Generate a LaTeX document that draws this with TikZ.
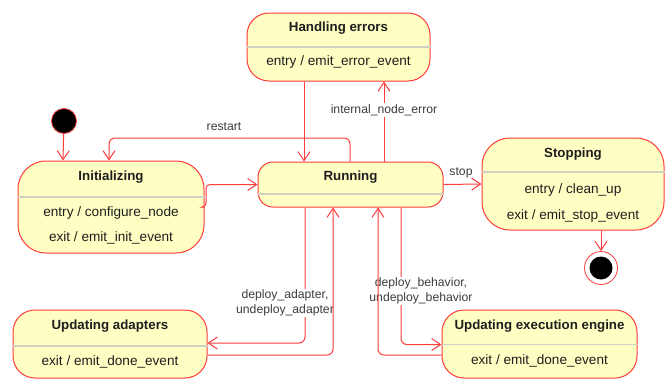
\documentclass[tikz,border=0pt]{standalone}
\usepackage{fontspec}
\setmainfont{Liberation Sans}
\usetikzlibrary{arrows.meta}

\definecolor{statefill}{HTML}{FFFFC4}
\definecolor{stateline}{HTML}{FF3B3B}
\definecolor{sepline}{HTML}{CFCFC4}
\definecolor{textdark}{HTML}{1E1E1E}
\definecolor{labeltext}{HTML}{3C3C3C}

\tikzset{
  statebox/.style={draw=stateline, line width=1pt, fill=statefill, inner sep=0pt},
  titletext/.style={font=\fontsize{13.3}{15}\selectfont\bfseries, text=textdark, inner sep=0pt},
  bodytext/.style={font=\fontsize{13.6}{16}\selectfont, text=textdark, inner sep=0pt},
  sep/.style={draw=sepline, line width=1.8pt},
  trans/.style={draw=stateline, line width=1pt, rounded corners=6pt,
    -{Straight Barb[length=9pt,width=12pt,line width=1pt]}},
  evlabel/.style={font=\fontsize{12.2}{15}\selectfont, text=labeltext, inner sep=1pt, align=center},
  pseudo/.style={circle, fill=black, draw=stateline, line width=0.8pt, inner sep=0pt}
}

\begin{document}
\begin{tikzpicture}[x=1pt,y=-1pt]
\useasboundingbox (0,0) rectangle (672,378);

% ---- states ----
\node[statebox, rounded corners=28pt, minimum width=186pt, minimum height=92pt] (init) at (111,207) {};
\draw[sep] (init.west |- 0,197) -- (init.east |- 0,197);
\node[titletext] (initT) at (111,177) {Initializing};
\node[bodytext] (initA) at (111,213) {entry / configure\_node};
\node[bodytext] (initB) at (111,238) {exit / emit\_init\_event};

\node[statebox, rounded corners=15pt, minimum width=185pt, minimum height=45pt] (run) at (350.5,184.5) {};
\draw[sep] (run.west |- 0,194) -- (run.east |- 0,194);
\node[titletext] (runT) at (350.5,177) {Running};

\node[statebox, rounded corners=22pt, minimum width=183pt, minimum height=68pt] (err) at (338.5,47) {};
\draw[sep] (err.west |- 0,47) -- (err.east |- 0,47);
\node[titletext] (errT) at (338.5,28) {Handling errors};
\node[bodytext] (errA) at (338.5,62) {entry / emit\_error\_event};

\node[statebox, rounded corners=28pt, minimum width=182pt, minimum height=92pt] (stop) at (573,184) {};
\draw[sep] (stop.west |- 0,172) -- (stop.east |- 0,172);
\node[titletext] (stopT) at (573,154) {Stopping};
\node[bodytext] (stopA) at (573,190) {entry / clean\_up};
\node[bodytext] (stopB) at (573,216) {exit / emit\_stop\_event};

\node[statebox, rounded corners=22pt, minimum width=194pt, minimum height=68pt] (adp) at (110,344) {};
\draw[sep] (adp.west |- 0,346) -- (adp.east |- 0,346);
\node[titletext] (adpT) at (110,326) {Updating adapters};
\node[bodytext] (adpA) at (110,362) {exit / emit\_done\_event};

\node[statebox, rounded corners=22pt, minimum width=195pt, minimum height=68pt] (eng) at (539.5,344) {};
\draw[sep] (eng.west |- 0,344.5) -- (eng.east |- 0,344.5);
\node[titletext] (engT) at (539.5,326) {Updating execution engine};
\node[bodytext] (engA) at (539.5,361) {exit / emit\_done\_event};

% ---- pseudo states ----
\node[pseudo, minimum size=25pt] (start) at (64,121) {};
\node[circle, draw=stateline, fill=white, line width=0.8pt, minimum size=33pt, inner sep=0pt] (final) at (601,268) {};
\node[circle, fill=black, minimum size=23pt, inner sep=0pt] (finalIn) at (601,268) {};

% ---- routing columns and rows ----
\coordinate (cStart) at (63,0);
\coordinate (cRestart) at (109,0);
\coordinate (cInitOut) at (206,0);
\coordinate (cErrIn) at (304,0);
\coordinate (cAdpOut) at (305,0);
\coordinate (cAdpIn) at (333,0);
\coordinate (cRestartUp) at (350,0);
\coordinate (cEngIn) at (378,0);
\coordinate (cErrOut) at (384,0);
\coordinate (cEngOut) at (401,0);
\coordinate (rRestart) at (0,138);
\coordinate (rInitOut) at (0,207);
\coordinate (rAdpTop) at (0,343);
\coordinate (rAdpBot) at (0,355);
\coordinate (rEngTop) at (0,344.5);
\coordinate (rEngBot) at (0,355);

% ---- transitions ----
\draw[trans] (start) -- (init.north -| cStart);
\draw[trans] (run.north -| cRestartUp) -- (cRestartUp |- rRestart)
  -- (cRestart |- rRestart) -- (init.north -| cRestart);
\node[evlabel] (lRestart) at (224,127) {restart};

\draw[trans, rounded corners=4pt] (init.east |- rInitOut) -- (cInitOut |- rInitOut)
  -- (cInitOut |- run.west) -- (run.west);

\draw[trans] (err.south -| cErrIn) -- (run.north -| cErrIn);
\draw[trans] (run.north -| cErrOut) -- (err.south -| cErrOut);
\node[evlabel, fill=white] (lErr) at (384,110) {internal\_node\_error};

\draw[trans] (run.east) -- (stop.west);
\node[evlabel] (lStop) at (461,173) {stop};

\draw[trans] (stop.south -| final) -- (final.north);

\draw[trans] (run.south -| cAdpOut) -- (cAdpOut |- rAdpTop) -- (adp.east |- rAdpTop);
\node[evlabel, fill=white] (lAdp) at (285,303) {deploy\_adapter,\\undeploy\_adapter};
\draw[trans] (adp.east |- rAdpBot) -- (cAdpIn |- rAdpBot) -- (run.south -| cAdpIn);

\draw[trans] (run.south -| cEngOut) -- (cEngOut |- rEngTop) -- (eng.west |- rEngTop);
\node[evlabel, fill=white] (lEng) at (421,291) {deploy\_behavior,\\undeploy\_behavior};
\draw[trans] (eng.west |- rEngBot) -- (cEngIn |- rEngBot) -- (run.south -| cEngIn);
\end{tikzpicture}
\end{document}
